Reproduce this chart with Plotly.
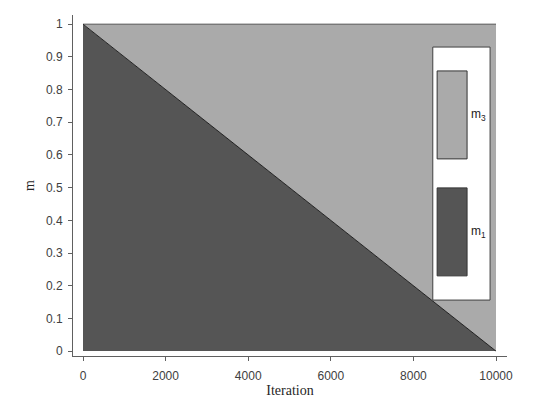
import plotly.graph_objects as go

# data
iterations = [0, 10000]
m1 = [1, 0]
m3 = [0, 1]
series_names = ["m<sub>1</sub>", "m<sub>3</sub>"]
x_ticks = [0, 2000, 4000, 6000, 8000, 10000]
y_ticks = [i / 10 for i in range(11)]
dark = "#555555"
light = "#aaaaaa"

fig = go.Figure()
fig.add_trace(go.Scatter(x=iterations, y=m1, name=series_names[0], stackgroup="one",
                         mode="lines", line=dict(color="black", width=0.8),
                         fillcolor=dark))
fig.add_trace(go.Scatter(x=iterations, y=m3, name=series_names[1], stackgroup="one",
                         mode="lines", line=dict(color="#333333", width=0.8),
                         fillcolor=light))

tick_font = dict(family="Liberation Sans, Arial", size=12, color="#404040")
title_font = dict(family="Liberation Serif, DejaVu Serif", size=14, color="#262626")

# the page body has an 8px margin, so margins are shifted to compensate
fig.update_layout(
    width=546, height=404,
    margin=dict(l=65, r=47, t=7, b=56, autoexpand=False),
    paper_bgcolor="white", plot_bgcolor="white",
    showlegend=False,
    xaxis=dict(range=[-242, 10266], tickvals=x_ticks, ticktext=[str(v) for v in x_ticks],
               ticks="outside", ticklen=4, tickcolor="#606060", showgrid=False,
               zeroline=False, showline=True, linecolor="#606060", linewidth=1,
               ticklabelstandoff=5,
               tickfont=tick_font, title=dict(text="Iteration", font=title_font, standoff=2)),
    yaxis=dict(range=[-0.015, 1.028], tickvals=y_ticks,
               ticktext=["0"] + ["0.%d" % i for i in range(1, 10)] + ["1"],
               ticks="outside", ticklen=4, tickcolor="#606060", showgrid=False,
               zeroline=False, showline=True, linecolor="#606060", linewidth=1,
               ticklabelstandoff=3,
               tickfont=tick_font, title=dict(text="m", font=title_font, standoff=8)),
)

# custom legend with tall patches (MATLAB style)
fig.add_shape(type="rect", xref="paper", yref="paper", x0=0.829, x1=0.961, y0=0.164, y1=0.906,
              fillcolor="white", line=dict(color="#404040", width=1), layer="above")
patches = [(dark, 0.235, 0.493, series_names[0]), (light, 0.578, 0.836, series_names[1])]
for color, y0, y1, name in patches:
    fig.add_shape(type="rect", xref="paper", yref="paper", x0=0.839, x1=0.908, y0=y0, y1=y1,
                  fillcolor=color, line=dict(color="#333333", width=1), layer="above")
    fig.add_annotation(xref="paper", yref="paper", x=0.913, y=(y0 + y1) / 2, text=name,
                       showarrow=False, xanchor="left", yanchor="middle",
                       font=dict(family="Liberation Sans, Arial", size=12, color="#222222"))

fig.write_html("out.html")
